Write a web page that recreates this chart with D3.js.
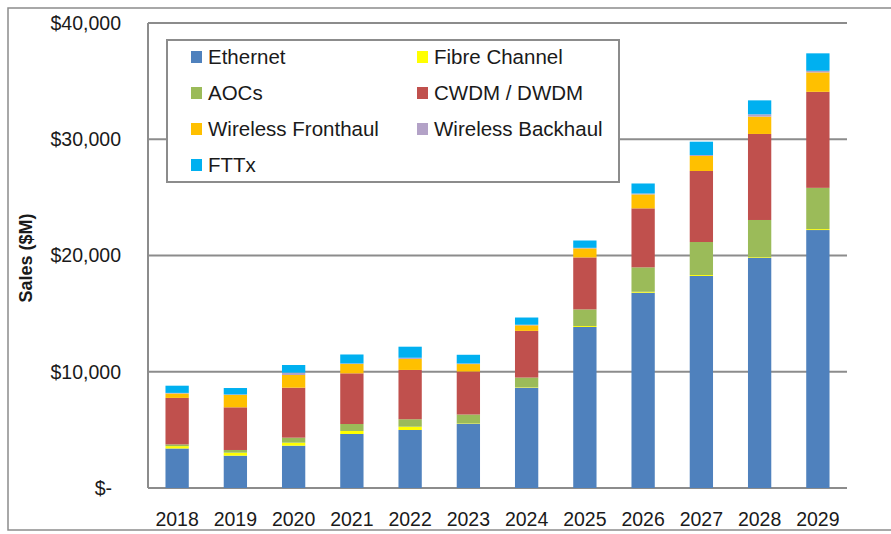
<!DOCTYPE html>
<html>
<head>
<meta charset="utf-8">
<script src="https://cdn.jsdelivr.net/npm/d3@7"></script>
<style>
  body { margin: 0; background: #fff; }
  text { font-family: "Liberation Sans", Arial, sans-serif; fill: #1a1a1a; }
</style>
</head>
<body>
<script>
// data, $M
var years = ["2018", "2019", "2020", "2021", "2022", "2023", "2024", "2025", "2026", "2027", "2028", "2029"];
var seriesNames = ["Ethernet", "Fibre Channel", "AOCs", "CWDM / DWDM", "Wireless Fronthaul", "Wireless Backhaul", "FTTx"];
var ethernet     = [3400, 2780, 3640, 4645, 4990, 5505, 8630, 13850, 16800, 18240, 19785, 22190];
var fibreChannel = [200, 260, 260, 260, 285, 40, 40, 80, 80, 80, 60, 80];
var aocs         = [150, 230, 430, 600, 640, 775, 830, 1435, 2100, 2840, 3210, 3550];
var cwdm         = [4000, 3670, 4300, 4360, 4240, 3700, 4015, 4470, 5075, 6110, 7400, 8260];
var fronthaul    = [380, 1060, 1090, 800, 950, 640, 480, 775, 1200, 1290, 1490, 1670];
var backhaul     = [50, 50, 200, 50, 100, 50, 50, 50, 80, 85, 200, 140];
var fttx         = [620, 550, 660, 770, 950, 750, 620, 630, 860, 1145, 1200, 1500];
var yTicks = [0, 10000, 20000, 30000, 40000];

var colors = ["#4f81bd", "#ffff00", "#9bbb59", "#c0504d", "#ffc000", "#b3a2c7", "#00b0f0"];
var allSeries = [ethernet, fibreChannel, aocs, cwdm, fronthaul, backhaul, fttx];

// build rows for d3.stack
var rows = years.map(function(y, i) {
    var r = { year: y };
    seriesNames.forEach(function(name, k) { r[name] = allSeries[k][i]; });
    return r;
});

const WIDTH = 891;
const HEIGHT = 534;
const LEFT = 148, RIGHT = 847, TOP = 23, BOTTOM = 488;

var svg = d3.select("body").append("svg")
    .attr("width", WIDTH)
    .attr("height", HEIGHT);

// outer frame (right side runs off the picture)
svg.append("rect")
    .attr("x", 8).attr("y", 8)
    .attr("width", 920).attr("height", 522)
    .attr("fill", "none")
    .attr("stroke", "#8c8c8c")
    .attr("stroke-width", 1.5);

var x = d3.scaleBand()
    .domain(years)
    .range([LEFT, RIGHT])
    .paddingInner(0.6)
    .paddingOuter(0.3);

var y = d3.scaleLinear()
    .domain([0, 40000])
    .range([BOTTOM, TOP]);

// gridlines
svg.append("g")
    .selectAll("line")
    .data(yTicks)
    .enter()
    .append("line")
    .attr("x1", LEFT).attr("x2", RIGHT)
    .attr("y1", d => y(d)).attr("y2", d => y(d))
    .attr("stroke", "#8c8c8c")
    .attr("stroke-width", 2);

// left axis line
svg.append("line")
    .attr("x1", LEFT).attr("x2", LEFT)
    .attr("y1", TOP).attr("y2", BOTTOM)
    .attr("stroke", "#8c8c8c")
    .attr("stroke-width", 2);

// y tick labels (accounting style)
svg.append("g")
    .selectAll("text")
    .data(yTicks)
    .enter()
    .append("text")
    .attr("x", d => d === 0 ? 112 : 121)
    .attr("y", d => y(d))
    .attr("dy", "0.35em")
    .attr("text-anchor", "end")
    .attr("font-size", "19.5px")
    .text(d => d === 0 ? "$-" : "$" + d3.format(",")(d));

// axis title
svg.append("text")
    .attr("transform", "translate(32,258) rotate(-90)")
    .attr("text-anchor", "middle")
    .attr("font-size", "18px")
    .attr("font-weight", "bold")
    .text("Sales ($M)");

// legend box (sits over gridlines)
svg.append("rect")
    .attr("x", 167).attr("y", 40)
    .attr("width", 452).attr("height", 142)
    .attr("fill", "#fff")
    .attr("stroke", "#8c8c8c")
    .attr("stroke-width", 2);

var legend = svg.append("g")
    .selectAll("g")
    .data(seriesNames)
    .enter()
    .append("g")
    .attr("transform", (d, i) => `translate(${i % 2 === 0 ? 191 : 417},${57 + Math.floor(i / 2) * 36})`);

legend.append("rect")
    .attr("x", 0).attr("y", -6)
    .attr("width", 11).attr("height", 12)
    .attr("fill", (d, i) => colors[i]);

legend.append("text")
    .attr("x", 17)
    .attr("dy", "0.35em")
    .attr("font-size", "20.5px")
    .text(d => d);

// stacked bars
var stacked = d3.stack().keys(seriesNames)(rows);

svg.append("g")
    .selectAll("g")
    .data(stacked)
    .enter()
    .append("g")
    .attr("fill", (d, i) => colors[i])
    .selectAll("rect")
    .data(d => d)
    .enter()
    .append("rect")
    .attr("x", d => x(d.data.year))
    .attr("width", x.bandwidth())
    .attr("y", d => y(d[1]))
    .attr("height", d => y(d[0]) - y(d[1]));

// x labels
svg.append("g")
    .selectAll("text")
    .data(years)
    .enter()
    .append("text")
    .attr("x", d => x(d) + x.bandwidth() / 2)
    .attr("y", 526)
    .attr("text-anchor", "middle")
    .attr("font-size", "19.5px")
    .text(d => d);
</script>
</body>
</html>
